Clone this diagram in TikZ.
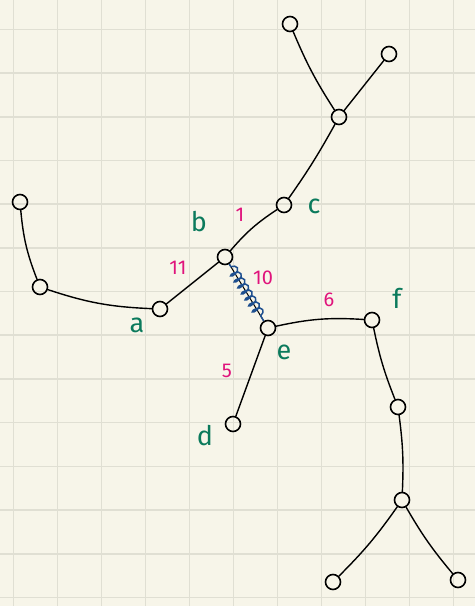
\documentclass[tikz,border=0pt]{standalone}
\usepackage{fontspec}
\setsansfont{Fira Sans}
\usetikzlibrary{decorations.pathmorphing}
\definecolor{paper}{HTML}{F7F5E9}
\definecolor{gridc}{HTML}{E0DFD3}
\definecolor{lblgreen}{HTML}{0B7A5C}
\definecolor{lblpink}{HTML}{E0137C}
\definecolor{springblue}{HTML}{1E4F8F}
\tikzset{
  vtx/.style={circle,draw=black,line width=1.6pt,minimum size=15pt,inner sep=0pt},
  edge/.style={draw=black,line width=1.4pt,line cap=round},
  nm/.style={text=lblgreen,font=\sffamily\fontsize{27}{27}\selectfont},
  wt/.style={text=lblpink,font=\sffamily\fontsize{20}{20}\selectfont},
}
\begin{document}
\begin{tikzpicture}[x=1pt,y=-1pt]
\fill[paper] (0,0) rectangle (475,606);
\useasboundingbox (0,0) rectangle (475,606);
\foreach \i in {0,...,10} {\draw[gridc,line width=1.6pt] (13.3+44*\i,0) -- (13.3+44*\i,606);}
\foreach \j in {0,...,13} {\draw[gridc,line width=1.6pt] (0,29.3+43.7*\j) -- (475,29.3+43.7*\j);}
% vertices
\node[vtx] (tl) at (290,24) {};
\node[vtx] (tr) at (389,54) {};
\node[vtx] (up) at (339,117) {};
\node[vtx] (c) at (284,205) {};
\node[vtx] (b) at (225,257) {};
\node[vtx] (a) at (160,309) {};
\node[vtx] (ll) at (40,287) {};
\node[vtx] (fl) at (20,202) {};
\node[vtx] (e) at (268,328) {};
\node[vtx] (d) at (233,424) {};
\node[vtx] (f) at (372,320) {};
\node[vtx] (fc) at (398,407) {};
\node[vtx] (lo) at (402,500) {};
\node[vtx] (bl) at (333,582) {};
\node[vtx] (br) at (458,580) {};
% edges
\draw[edge] (tl) to[bend right=5] (up);
\draw[edge] (tr) -- (up);
\draw[edge] (up) to[bend left=3] (c);
\draw[edge] (c) to[bend right=8] (b);
\draw[edge] (b) -- (a);
\draw[edge] (a) to[bend left=8] (ll);
\draw[edge] (ll) to[bend left=8] (fl);
\draw[edge] (e) -- (d);
\draw[edge] (e) to[bend left=8] (f);
\draw[edge] (f) to[bend right=5] (fc);
\draw[edge] (fc) to[bend left=5] (lo);
\draw[edge] (lo) to[bend left=5] (bl);
\draw[edge] (lo) to[bend right=5] (br);
% spring
\draw[black,line width=1pt] (b) -- (e);
\draw[springblue,line width=1.5pt,decorate,decoration={coil,segment length=7pt,amplitude=5pt,pre length=3pt,post length=3pt}] (b) -- (e);
% labels
\node[nm] (lb) at (199,222) {b};
\node[nm] (lc) at (314,206) {c};
\node[nm] (la) at (137,325) {a};
\node[nm] (lf) at (397,298) {f};
\node[nm] (le) at (284,352) {e};
\node[nm] (ld) at (205,436) {d};
\node[wt] (w1) at (240,215) {1};
\node[wt] (w11) at (178,268) {11};
\node[wt] (w10) at (263,278) {10};
\node[wt] (w6) at (329,300) {6};
\node[wt] (w5) at (227,371) {5};
\end{tikzpicture}
\end{document}
